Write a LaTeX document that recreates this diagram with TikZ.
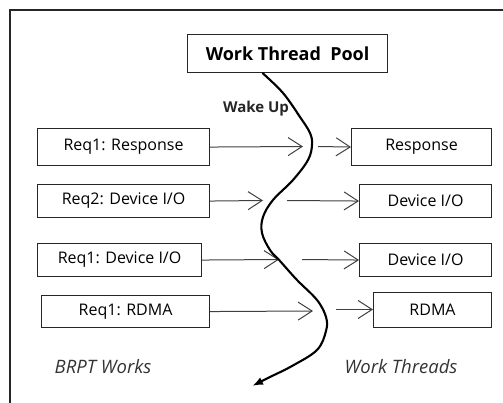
\documentclass[tikz,border=0pt]{standalone}
\usepackage{fontspec}
\setmainfont{Open Sans}
\usetikzlibrary{arrows.meta}
\begin{document}
\begin{tikzpicture}[x=1pt,y=-1pt,
  frame/.style={draw=black!85, line width=1.4pt},
  box/.style={draw=black!85, line width=1.1pt, inner sep=0pt, anchor=north west,
    font=\fontsize{16}{19}\selectfont, text=black},
  flow/.style={draw=black!75, line width=1pt,
    -{Straight Barb[length=14pt,width=18pt,line width=1pt]}},
  wave/.style={draw=black, line width=2.1pt, line cap=round,
    -{Latex[length=11pt,width=8pt]}},
  caption/.style={font=\fontsize{18.5}{22}\selectfont\itshape, text=black!80}]
\useasboundingbox (0,0) rectangle (503,403);

% outer frame (top and left edges)
\draw[frame] (10,403) -- (10,10) -- (503,10);

% pool
\node[box, minimum width=200pt, minimum height=38pt, font=\fontsize{18}{21}\selectfont\bfseries]
  (pool) at (187,34) {Work Thread\ \ Pool};

% BRPT works (left)
\node[box, minimum width=172pt, minimum height=37pt] (l1) at (37,128) {Req1: Response};
\node[box, minimum width=172pt, minimum height=33pt] (l2) at (37,184) {Req2: Device I/O};
\node[box, minimum width=164pt, minimum height=33pt] (l3) at (37,243) {Req1: Device I/O};
\node[box, minimum width=168pt, minimum height=32pt] (l4) at (41,295) {Req1: RDMA};

% work threads (right)
\node[box, minimum width=140pt, minimum height=37pt] (r1) at (351,128) {Response};
\node[box, minimum width=132pt, minimum height=33pt] (r2) at (359,184) {Device I/O};
\node[box, minimum width=132pt, minimum height=33pt] (r3) at (359,243) {Device I/O};
\node[box, minimum width=118pt, minimum height=35pt] (r4) at (373,292) {RDMA};

% arrow ends on either side of the wake-up curve
\coordinate (a1) at (303,146.5);
\coordinate (b1) at (318,146.5);
\coordinate (a2) at (263,200.5);
\coordinate (b2) at (287,200.5);
\coordinate (a3) at (279,259.5);
\coordinate (b3) at (302,259.5);
\coordinate (a4) at (313,311);
\coordinate (b4) at (336,309.5);

\draw[flow] (l1.east) -- (a1);
\draw[flow] (b1) -- (r1.west);
\draw[flow] (l2.east) -- (a2);
\draw[flow] (b2) -- (r2.west);
\draw[flow] (l3.east) -- (a3);
\draw[flow] (b3) -- (r3.west);
\draw[flow] (l4.east) -- (a4);
\draw[flow] (b4) -- (b4 -| r4.west);

% wake-up curve
\coordinate (w0) at ([xshift=-25pt]pool.south);
\draw[wave] plot[smooth, tension=0.6] coordinates {
  (w0) (283,93) (300,117) (310,133) (312,145) (308,160) (293,180)
  (273,200) (263,217) (262,233) (270,250) (280,261) (297,280)
  (317,300) (326,317) (326,331) (317,350) (292,366) (270,377) (252,386)};
\node[font=\fontsize{15}{18}\selectfont\bfseries, text=black!85] (wake) at (256,109) {Wake Up};

% captions
\node[caption] (capl) at (103,367) {BRPT Works};
\node[caption] (capr) at (401,367) {Work Threads};
\end{tikzpicture}
\end{document}
